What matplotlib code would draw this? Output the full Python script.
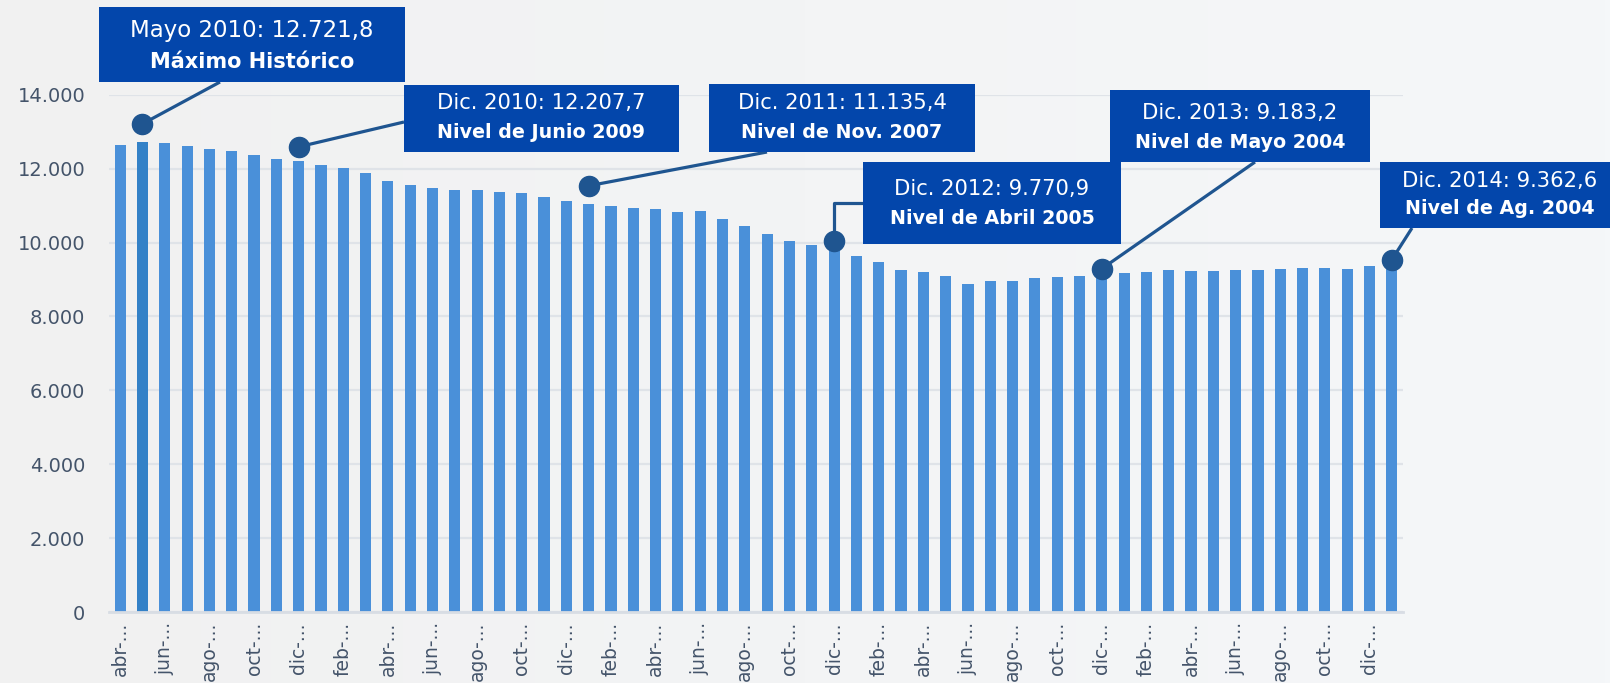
import matplotlib
matplotlib.use("Agg")
import matplotlib.pyplot as plt
import numpy as np
from matplotlib.patches import Rectangle
from matplotlib.lines import Line2D
from matplotlib.ticker import FuncFormatter

# Meses abr-2010 .. ene-2015
meses = ["ene", "feb", "mar", "abr", "may", "jun", "jul", "ago", "sep", "oct", "nov", "dic"]
periodos = [f"{meses[m % 12]}-{10 + m // 12:02d}" for m in range(3, 3 + 58)]

ocupados = [
    12640, 12721.8, 12685, 12613, 12540, 12469, 12361, 12270, 12207.7, 12100,
    12019, 11876, 11668, 11560, 11487, 11425, 11425, 11371, 11344, 11218,
    11135.4, 11047, 10985, 10939, 10894, 10831, 10858, 10634, 10454, 10220,
    10049, 9922, 9770.9, 9625, 9473, 9257, 9212, 9095, 8880, 8969,
    8969, 9041, 9077, 9104, 9183.2, 9185, 9193, 9247, 9231, 9231,
    9247, 9256, 9274, 9301, 9310, 9283, 9362.6, 9400,
]
destacado = 1  # barra del maximo historico

# etiquetas del eje x (truncadas como en el original)
tick_pos = list(range(0, len(periodos), 2))
tick_labels = [periodos[i].split("-")[0] + "-..." for i in tick_pos]

# llamadas
callout_bars = [1, 8, 21, 32, 44, 57]
callout_line1 = ["Mayo 2010: 12.721,8", "Dic. 2010: 12.207,7", "Dic. 2011: 11.135,4",
                 "Dic. 2012: 9.770,9", "Dic. 2013: 9.183,2", "Dic. 2014: 9.362,6"]
callout_line2 = ["Máximo Histórico", "Nivel de Junio 2009", "Nivel de Nov. 2007",
                 "Nivel de Abril 2005", "Nivel de Mayo 2004", "Nivel de Ag. 2004"]

# layout de las cajas (pixeles, origen arriba-izquierda)
boxes = [(99, 7, 405, 82), (404, 85, 679, 152), (709, 84, 975, 152),
         (863, 162, 1121, 244), (1110, 90, 1370, 162), (1380, 162, 1612, 228)]
text_x = [252, 541, 842, 992, 1240, 1500]
text_y = [(30, 62), (103, 133), (103, 133), (189, 218), (113, 142), (181, 209)]
text_size = [16.5, 15.2, 15.2, 15.2, 15.2, 15.2]
anchors = [(220, 82), (404, 122), (767, 152), (863, 203), (1255, 162), (1412, 228)]
lift_px = [18, 14, 18, 10, 4, 5]
elbow = [False, False, False, True, False, False]

W, H = 1610, 683
BAR = "#4A90D9"
BAR_DARK = "#3381C7"
BOX = "#0346AB"
LINK = "#1F5590"
TXT = "#44546A"
GRID = "#DFE3E8"

plt.rcParams["font.family"] = ["DejaVu Sans"]

fig = plt.figure(figsize=(W / 100, H / 100), dpi=100)

# fondo con degradado suave
bg = fig.add_axes([0, 0, 1, 1], zorder=-10)
grad = np.linspace(0, 1, 256).reshape(1, -1)
c0 = np.array([0xF1, 0xF1, 0xF1]) / 255
c1 = np.array([0xF5, 0xF7, 0xF9]) / 255
img = c0[None, None, :] * (1 - grad[..., None]) + c1[None, None, :] * grad[..., None]
bg.imshow(img, aspect="auto", extent=[0, 1, 0, 1])
bg.axis("off")

ax = fig.add_axes([109 / W, 1 - 612.3 / H, (1403 - 109) / W, (612.3 - 94.6) / H])
ax.set_facecolor("none")

x = np.arange(len(ocupados))
colors = [BAR_DARK if i == destacado else BAR for i in x]
ax.bar(x, ocupados, width=0.5, color=colors, zorder=3)

ax.set_xlim(-0.5, len(ocupados) - 0.5)
ax.set_ylim(0, 14000)
ax.set_yticks(np.arange(0, 14001, 2000))
ax.yaxis.set_major_formatter(FuncFormatter(lambda v, p: f"{int(v):,}".replace(",", ".")))
ax.grid(True, axis="y", color=GRID, lw=1.6, zorder=0)
for s in ["top", "right", "left"]:
    ax.spines[s].set_visible(False)
ax.spines["bottom"].set_color("#D8DDE4")
ax.spines["bottom"].set_linewidth(2)
ax.spines["bottom"].set_zorder(4)

ax.set_xticks(tick_pos)
ax.set_xticklabels(tick_labels, rotation=90, va="top", ha="center")
ax.tick_params(axis="x", length=0, pad=7, labelsize=13.5, labelcolor=TXT)
ax.tick_params(axis="y", length=0, pad=17, labelsize=14, labelcolor=TXT)


def px(xp, yp):
    return xp / W, 1 - yp / H


to_fig = fig.transFigure.inverted()
for k, bar_i in enumerate(callout_bars):
    dx, dy = ax.transData.transform((bar_i, ocupados[bar_i]))
    dy += lift_px[k]
    mx, my = to_fig.transform((dx, dy))
    ax_, ay_ = px(*anchors[k])
    if elbow[k]:
        xs, ys = [ax_, mx, mx], [ay_, ay_, my]
    else:
        xs, ys = [ax_, mx], [ay_, my]
    fig.add_artist(Line2D(xs, ys, transform=fig.transFigure, color=LINK, lw=2.3,
                          solid_capstyle="butt", zorder=5))
    fig.add_artist(Line2D([mx], [my], transform=fig.transFigure, marker="o",
                          markersize=14.5, color=LINK, zorder=6))

    x0, y0, x1, y1 = boxes[k]
    bx, by = px(x0, y1)
    fig.add_artist(Rectangle((bx, by), (x1 - x0) / W, (y1 - y0) / H,
                             transform=fig.transFigure, facecolor=BOX,
                             edgecolor="none", zorder=7))
    tx, ty1 = px(text_x[k], text_y[k][0])
    _, ty2 = px(text_x[k], text_y[k][1])
    fig.text(tx, ty1, callout_line1[k], color="white", fontsize=text_size[k],
             ha="center", va="center", zorder=8)
    fig.text(tx, ty2, callout_line2[k], color="white", fontsize=text_size[k] - 1.5,
             fontweight="bold", ha="center", va="center", zorder=8)

fig.savefig("out.png", dpi=100, facecolor=fig.get_facecolor())
plt.close(fig)
